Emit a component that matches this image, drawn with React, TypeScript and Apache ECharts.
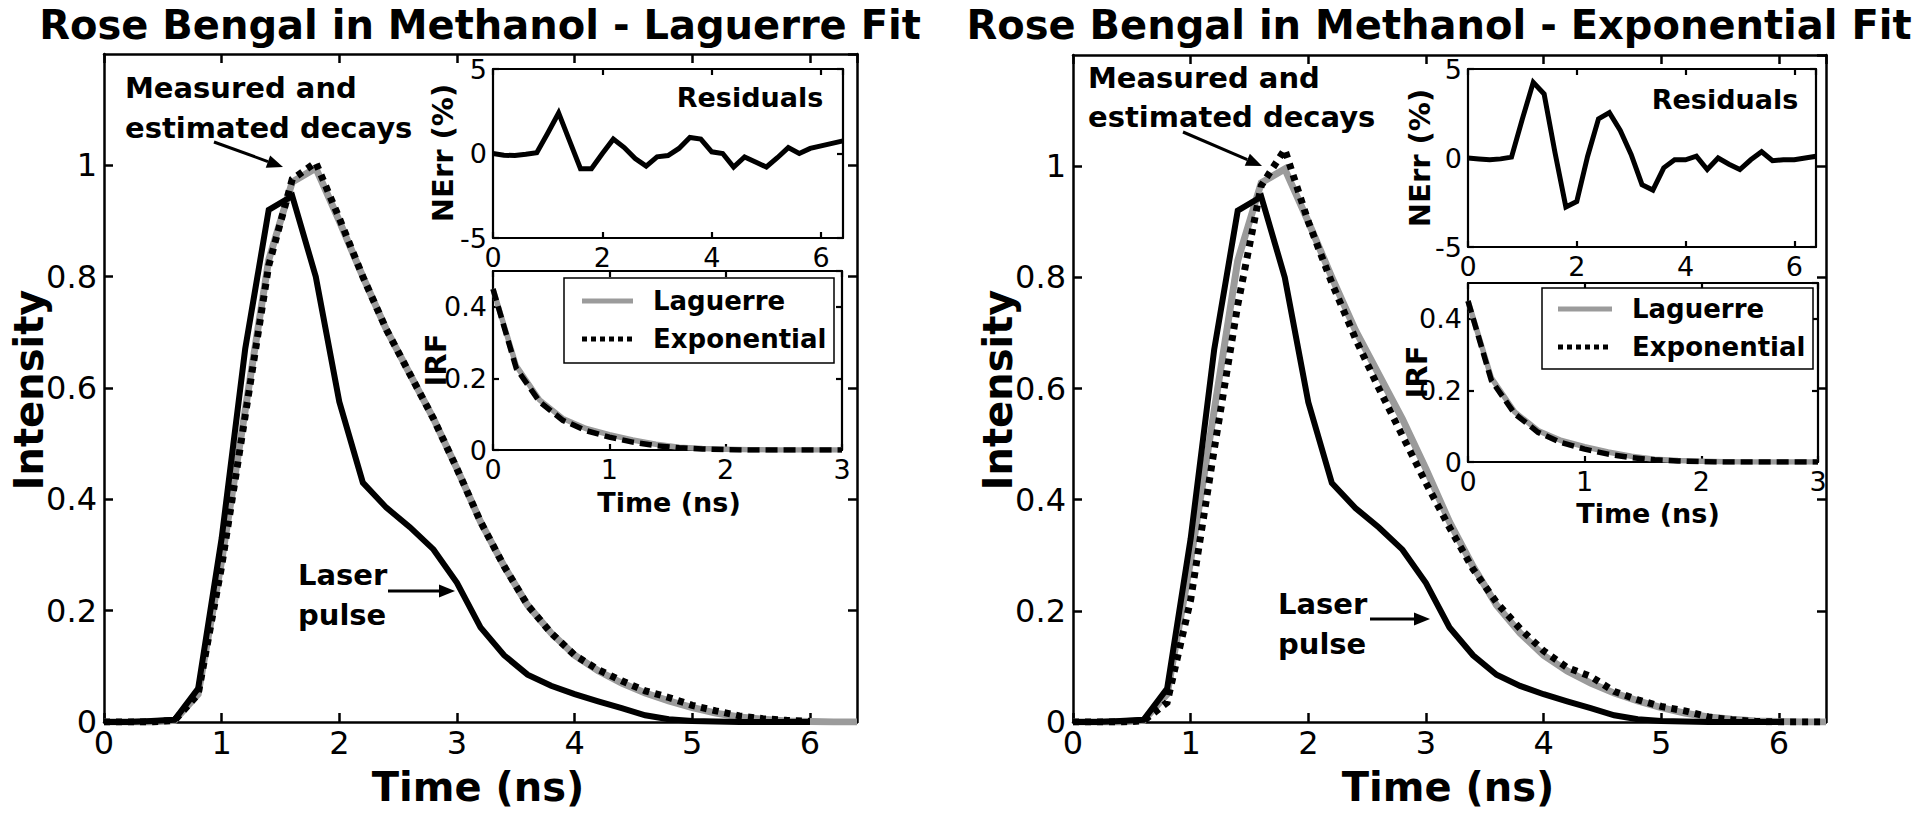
import React, { useEffect, useRef } from "react";
import * as echarts from "echarts";

// ---------- data ----------
const TIME = [0, 0.2, 0.4, 0.6, 0.8, 1.0, 1.2, 1.4, 1.6, 1.8, 2.0, 2.2, 2.4, 2.6, 2.8, 3.0, 3.2, 3.4, 3.6, 3.8, 4.0, 4.2, 4.4, 4.6, 4.8, 5.0, 5.2, 5.4, 5.6, 5.8, 6.0, 6.2, 6.4];

const LASER = [0, 0, 0.002, 0.004, 0.06, 0.33, 0.67, 0.92, 0.945, 0.8, 0.575, 0.43, 0.385, 0.35, 0.31, 0.25, 0.17, 0.12, 0.085, 0.065, 0.05, 0.037, 0.025, 0.012, 0.005, 0.002, 0.001, 0, 0, 0, 0, null, null];

const LAGUERRE_DECAY = [0, 0, 0, 0.003, 0.05, 0.29, 0.56, 0.83, 0.97, 0.995, 0.9, 0.8, 0.705, 0.625, 0.545, 0.455, 0.36, 0.28, 0.21, 0.16, 0.12, 0.092, 0.07, 0.052, 0.038, 0.026, 0.016, 0.009, 0.005, 0.002, 0.001, 0, 0];

const EXP_DECAY_LEFT = [0, 0, 0, 0.003, 0.05, 0.28, 0.55, 0.82, 0.975, 1.005, 0.905, 0.8, 0.705, 0.625, 0.545, 0.455, 0.36, 0.28, 0.21, 0.16, 0.12, 0.094, 0.074, 0.056, 0.044, 0.03, 0.02, 0.011, 0.006, 0.003, 0.001, null, null];

const EXP_DECAY_RIGHT = [0, 0, 0, 0.002, 0.035, 0.22, 0.49, 0.75, 0.965, 1.03, 0.9, 0.79, 0.69, 0.6, 0.515, 0.43, 0.35, 0.275, 0.215, 0.168, 0.128, 0.098, 0.082, 0.055, 0.04, 0.028, 0.02, 0.009, 0.004, 0.001, 0, 0, 0];

const RESID_LAGUERRE = [0, -0.1, -0.12, -0.05, 0.05, 1.2, 2.4, 0.75, -0.9, -0.9, 0.0, 0.85, 0.35, -0.3, -0.75, -0.2, -0.12, 0.3, 0.95, 0.85, 0.1, 0.0, -0.8, -0.2, -0.5, -0.8, -0.25, 0.35, 0.0, 0.3, 0.45, 0.6, 0.75];

const RESID_EXP = [0, -0.05, -0.1, -0.05, 0.05, 2.2, 4.25, 3.6, 0.3, -2.75, -2.45, 0.1, 2.2, 2.55, 1.55, 0.2, -1.5, -1.8, -0.55, -0.1, -0.1, 0.1, -0.65, 0.0, -0.35, -0.65, -0.1, 0.35, -0.15, -0.1, -0.1, 0.0, 0.1];

const IRF_TIME = [0, 0.2, 0.4, 0.6, 0.8, 1.0, 1.2, 1.4, 1.6, 1.8, 2.0, 2.2, 2.4, 2.6, 2.8, 3.0];
const IRF_LAGUERRE = [0.45, 0.235, 0.14, 0.088, 0.06, 0.043, 0.028, 0.016, 0.008, 0.004, 0.002, 0.001, 0, 0, 0, 0];
const IRF_EXP = [0.45, 0.228, 0.135, 0.083, 0.054, 0.036, 0.022, 0.012, 0.006, 0.003, 0.001, 0, 0, 0, 0, 0];

const TITLES = ["Rose Bengal in Methanol - Laguerre Fit", "Rose Bengal in Methanol - Exponential Fit"];

// ---------- helpers ----------
const FONT = '"DejaVu Sans", "Liberation Sans", Arial, sans-serif';
const GRAY = "#9b9b9b";

function pairs(xs: number[], ys: (number | null)[]) {
  const out: number[][] = [];
  xs.forEach((x, i) => {
    const y = ys[i];
    if (y !== null && y !== undefined) out.push([x, y]);
  });
  return out;
}

function axisSet(grid: number, x: any, y: any, cfg: any) {
  const line = { show: true, onZero: false, lineStyle: { color: "#000", width: cfg.lw } };
  const tick = { show: true, inside: true, length: cfg.tl, lineStyle: { color: "#000", width: cfg.lw } };
  const lab = (show: boolean, margin: number, showMax: boolean) => ({
    show,
    margin,
    showMaxLabel: showMax,
    showMinLabel: true,
    color: "#000",
    fontSize: cfg.fs,
    fontFamily: FONT,
  });
  const xa = [
    { type: "value", gridIndex: grid, position: "bottom", min: x.min, max: x.max, interval: x.int, axisLine: line, axisTick: tick, splitLine: { show: false }, axisLabel: lab(true, cfg.xm, x.showMax) },
    { type: "value", gridIndex: grid, position: "top", min: x.min, max: x.max, interval: x.int, axisLine: line, axisTick: tick, splitLine: { show: false }, axisLabel: { show: false } },
  ];
  const ya = [
    { type: "value", gridIndex: grid, position: "left", min: y.min, max: y.max, interval: y.int, axisLine: line, axisTick: tick, splitLine: { show: false }, axisLabel: lab(true, cfg.ym, y.showMax) },
    { type: "value", gridIndex: grid, position: "right", min: y.min, max: y.max, interval: y.int, axisLine: line, axisTick: tick, splitLine: { show: false }, axisLabel: { show: false } },
  ];
  return { xa, ya };
}

function txt(text: string, x: number, y: number, size: number, opts: any = {}) {
  return {
    type: "text",
    x,
    y,
    rotation: opts.rot || 0,
    z: 100,
    style: {
      text,
      fill: "#000",
      fontSize: size,
      fontWeight: opts.weight || "bold",
      fontFamily: FONT,
      textAlign: opts.align || "center",
      textVerticalAlign: "middle",
      align: opts.align || "center",
      verticalAlign: "middle",
    },
  };
}

function arrow(x1: number, y1: number, x2: number, y2: number) {
  const dx = x2 - x1;
  const dy = y2 - y1;
  const len = Math.sqrt(dx * dx + dy * dy);
  const ux = dx / len;
  const uy = dy / len;
  const hl = 16;
  const hw = 6.5;
  const bx = x2 - ux * hl;
  const by = y2 - uy * hl;
  return [
    { type: "line", z: 100, shape: { x1, y1, x2: bx, y2: by }, style: { stroke: "#000", lineWidth: 3 } },
    {
      type: "polygon",
      z: 100,
      shape: { points: [[x2, y2], [bx - uy * hw, by + ux * hw], [bx + uy * hw, by - ux * hw]] },
      style: { fill: "#000" },
    },
  ];
}

function legend(x: number, y: number, w: number, h: number, l1: number, l2: number, lx1: number, lx2: number, tx: number) {
  return [
    { type: "rect", z: 99, shape: { x, y, width: w, height: h }, style: { fill: "#fff", stroke: "#000", lineWidth: 1.5 } },
    { type: "line", z: 100, shape: { x1: lx1, y1: l1, x2: lx2, y2: l1 }, style: { stroke: GRAY, lineWidth: 5 } },
    { type: "line", z: 100, shape: { x1: lx1, y1: l2, x2: lx2, y2: l2 }, style: { stroke: "#000", lineWidth: 5, lineDash: [5, 4] } },
    txt("Laguerre", tx, l1, 26, { align: "left" }),
    txt("Exponential", tx, l2, 26, { align: "left" }),
  ];
}

export default function App() {
  const ref = useRef<HTMLDivElement>(null);

  useEffect(() => {
    if (!ref.current) return;
    const chart = echarts.init(ref.current, null, { renderer: "svg" });

    const grids = [
      { left: 104, top: 54, width: 753, height: 668 },
      { left: 493, top: 69, width: 350, height: 169 },
      { left: 493, top: 271, width: 349, height: 179 },
      { left: 1073, top: 55, width: 753, height: 667 },
      { left: 1468, top: 69, width: 348, height: 178 },
      { left: 1468, top: 283, width: 350, height: 179 },
    ].map((g, i) => ({
      ...g,
      show: i % 3 !== 0,
      backgroundColor: "#fff",
      borderWidth: 0,
      containLabel: false,
    }));

    const mainCfg = { lw: 2.5, tl: 9, fs: 32, xm: 5, ym: 7 };
    const insetCfg = { lw: 2.2, tl: 6, fs: 27, xm: 6, ym: 6 };
    const mainX = { min: 0, max: 6.4, int: 1, showMax: false };
    const mainY = { min: 0, max: 1.2, int: 0.2, showMax: false };
    const resX = { min: 0, max: 6.4, int: 2, showMax: false };
    const resY = { min: -5, max: 5, int: 5, showMax: true };
    const irfX = { min: 0, max: 3, int: 1, showMax: true };
    const irfY = { min: 0, max: 0.5, int: 0.2, showMax: false };

    const sets = [
      axisSet(0, mainX, mainY, mainCfg),
      axisSet(1, resX, resY, insetCfg),
      axisSet(2, irfX, irfY, insetCfg),
      axisSet(3, mainX, mainY, mainCfg),
      axisSet(4, resX, resY, insetCfg),
      axisSet(5, irfX, irfY, insetCfg),
    ];
    const xAxis: any[] = [];
    const yAxis: any[] = [];
    sets.forEach((s) => {
      xAxis.push(...s.xa);
      yAxis.push(...s.ya);
    });
    const line = (name: string, g: number, data: number[][], color: string, width: number, type: any, z: number) => ({
      type: "line",
      name,
      xAxisIndex: 2 * g,
      yAxisIndex: 2 * g,
      data,
      symbol: "none",
      showSymbol: false,
      silent: true,
      z,
      lineStyle: { color, width, type, cap: "butt", join: "miter" },
    });

    const series = [
      line("Laguerre", 0, pairs(TIME, LAGUERRE_DECAY), GRAY, 7, "solid", 2),
      line("Laser pulse", 0, pairs(TIME, LASER), "#000", 6, "solid", 3),
      line("Exponential", 0, pairs(TIME, EXP_DECAY_LEFT), "#000", 7, [6, 6], 4),
      line("Residuals", 1, pairs(TIME, RESID_LAGUERRE), "#000", 5, "solid", 3),
      line("Laguerre IRF", 2, pairs(IRF_TIME, IRF_LAGUERRE), GRAY, 5.5, "solid", 2),
      line("Exponential IRF", 2, pairs(IRF_TIME, IRF_EXP), "#000", 5.5, [12, 6], 3),
      line("Laguerre", 3, pairs(TIME, LAGUERRE_DECAY), GRAY, 7, "solid", 2),
      line("Laser pulse", 3, pairs(TIME, LASER), "#000", 6, "solid", 3),
      line("Exponential", 3, pairs(TIME, EXP_DECAY_RIGHT), "#000", 7, [6, 6], 4),
      line("Residuals", 4, pairs(TIME, RESID_EXP), "#000", 5, "solid", 3),
      line("Laguerre IRF", 5, pairs(IRF_TIME, IRF_LAGUERRE), GRAY, 5.5, "solid", 2),
      line("Exponential IRF", 5, pairs(IRF_TIME, IRF_EXP), "#000", 5.5, [12, 6], 3),
    ];

    const R = Math.PI / 2;
    const elements: any[] = [
      txt(TITLES[0], 480, 25, 40),
      txt(TITLES[1], 1439, 25, 40),
      txt("Intensity", 29, 390, 40, { rot: R }),
      txt("Intensity", 998, 390, 40, { rot: R }),
      txt("Time (ns)", 478, 787, 40),
      txt("Time (ns)", 1448, 787, 40),
      txt("NErr (%)", 443, 153, 29, { rot: R }),
      txt("NErr (%)", 1420, 158, 29, { rot: R }),
      txt("IRF", 436, 360, 29, { rot: R }),
      txt("IRF", 1417, 372, 29, { rot: R }),
      txt("Time (ns)", 669, 502, 27),
      txt("Time (ns)", 1648, 513, 27),
      txt("Residuals", 750, 97, 27),
      txt("Residuals", 1725, 99, 27),
      txt("Measured and", 125, 88, 29, { align: "left" }),
      txt("estimated decays", 125, 128, 29, { align: "left" }),
      txt("Measured and", 1088, 78, 29, { align: "left" }),
      txt("estimated decays", 1088, 117, 29, { align: "left" }),
      txt("Laser", 298, 575, 29, { align: "left" }),
      txt("pulse", 298, 615, 29, { align: "left" }),
      txt("Laser", 1278, 604, 29, { align: "left" }),
      txt("pulse", 1278, 644, 29, { align: "left" }),
      ...arrow(214, 142, 283, 167),
      ...arrow(1183, 132, 1262, 166),
      ...arrow(388, 591, 455, 591),
      ...arrow(1370, 619, 1430, 619),
      ...legend(564, 278, 270, 85, 301, 339, 582, 633, 653),
      ...legend(1542, 288, 271, 81, 309, 347, 1558, 1612, 1632),
    ];

    chart.setOption({
      animation: false,
      backgroundColor: "#fff",
      grid: grids,
      xAxis,
      yAxis,
      series,
      graphic: { elements },
    });

    return () => chart.dispose();
  }, []);

  return (
    <div
      ref={ref}
      style={{ position: "fixed", left: 0, top: 0, width: 1920, height: 822, background: "#fff" }}
    />
  );
}
